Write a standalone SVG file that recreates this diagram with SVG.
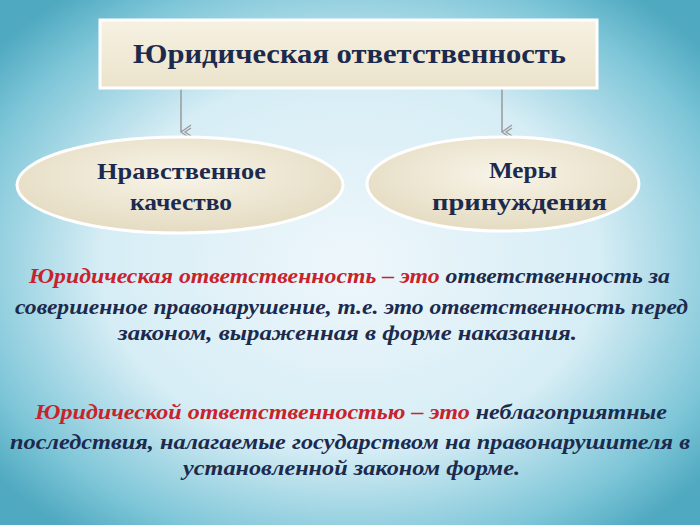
<svg xmlns="http://www.w3.org/2000/svg" width="700" height="525" viewBox="0 0 700 525">
<defs>
<radialGradient id="bg" cx="50%" cy="50%" r="65%">
<stop offset="0" stop-color="#eef7fb"/><stop offset="0.55" stop-color="#d6edf5"/><stop offset="0.85" stop-color="#7ec6d8"/><stop offset="1" stop-color="#4fa9c0"/>
</radialGradient>
<linearGradient id="box" x1="0" y1="0" x2="0" y2="1"><stop offset="0" stop-color="#f6f1e2"/><stop offset="1" stop-color="#ebe3cb"/></linearGradient>
<radialGradient id="ell" cx="50%" cy="40%" r="60%"><stop offset="0" stop-color="#f8f4e8"/><stop offset="1" stop-color="#e4dbc1"/></radialGradient>
<marker id="ar" viewBox="0 0 16 16" refX="8" refY="15" markerWidth="16" markerHeight="16" markerUnits="userSpaceOnUse" orient="auto">
<path d="M1,5 L8,15 L15,5 M4,5 L8,11 L12,5" fill="none" stroke="#9a9a9a" stroke-width="1.3"/></marker>
</defs>
<style>
.t{font-family:"Liberation Serif",serif;font-weight:bold;fill:#1c2a4d}
.p{font-family:"Liberation Serif",serif;font-weight:bold;font-style:italic;font-size:21px;fill:#1c2a4d}
.r{fill:#c8232c}
.node{stroke:#fff;stroke-width:3}
</style>
<rect width="700" height="525" fill="url(#bg)"/>
<g id="connectors" stroke="#9a9a9a" stroke-width="1.5" fill="none">
<line x1="181" y1="88" x2="181" y2="132" marker-end="url(#ar)"/>
<line x1="502" y1="88" x2="502" y2="132" marker-end="url(#ar)"/>
</g>
<g id="title">
<rect x="100" y="20" width="497" height="68" class="node" fill="url(#box)" stroke-width="2"/>
<text x="133" y="63" class="t" font-size="28" textLength="433" lengthAdjust="spacingAndGlyphs">Юридическая ответственность</text>
</g>
<g id="n1">
<ellipse cx="180" cy="185" rx="163" ry="48" class="node" fill="url(#ell)"/>
<text x="97" y="179" class="t" font-size="24" textLength="169" lengthAdjust="spacingAndGlyphs">Нравственное</text>
<text x="130" y="210" class="t" font-size="24" textLength="102" lengthAdjust="spacingAndGlyphs">качество</text>
</g>
<g id="n2">
<ellipse cx="503" cy="184" rx="136" ry="47" class="node" fill="url(#ell)"/>
<text x="489" y="178" class="t" font-size="24" textLength="68" lengthAdjust="spacingAndGlyphs">Меры</text>
<text x="432" y="210" class="t" font-size="24" textLength="175" lengthAdjust="spacingAndGlyphs">принуждения</text>
</g>
<g id="def1">
<text x="29" y="283" class="p" textLength="641" lengthAdjust="spacingAndGlyphs"><tspan class="r">Юридическая ответственность – это</tspan> ответственность за</text>
<text x="15" y="314" class="p" textLength="673" lengthAdjust="spacingAndGlyphs">совершенное правонарушение, т.е. это ответственность перед</text>
<text x="118" y="340" class="p" textLength="459" lengthAdjust="spacingAndGlyphs">законом, выраженная в форме наказания.</text>
</g>
<g id="def2">
<text x="35" y="419" class="p" textLength="632" lengthAdjust="spacingAndGlyphs"><tspan class="r">Юридической ответственностью – это</tspan> неблагоприятные</text>
<text x="10" y="449" class="p" textLength="680" lengthAdjust="spacingAndGlyphs">последствия, налагаемые государством на правонарушителя в</text>
<text x="183" y="475" class="p" textLength="337" lengthAdjust="spacingAndGlyphs">установленной законом форме.</text>
</g>
</svg>
